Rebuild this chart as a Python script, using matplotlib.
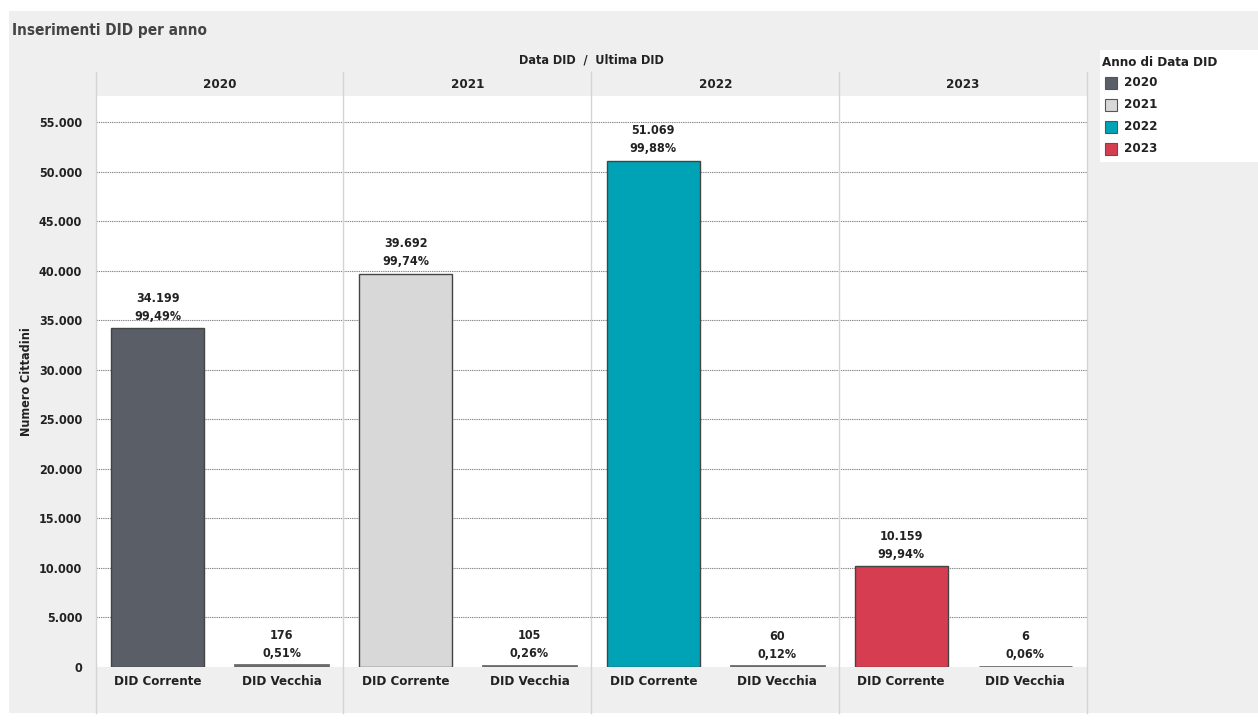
import matplotlib
matplotlib.use("Agg")
import matplotlib.pyplot as plt
from matplotlib import font_manager
from matplotlib.patches import Rectangle
from matplotlib.lines import Line2D

years = ["2020", "2021", "2022", "2023"]
categories = ["DID Corrente", "DID Vecchia"]
corrente = [34199, 39692, 51069, 10159]
vecchia = [176, 105, 60, 6]
pct_corrente = ["99,49%", "99,74%", "99,88%", "99,94%"]
pct_vecchia = ["0,51%", "0,26%", "0,12%", "0,06%"]
yticks = list(range(0, 55001, 5000))
colors = ["#5a5e67", "#d8d8d8", "#00a3b5", "#d63d51"]

names = {f.name for f in font_manager.fontManager.ttflist}
if "Liberation Sans Narrow" in names:
    FONT = "Liberation Sans Narrow"
    STRETCH = "normal"
else:
    FONT = "DejaVu Sans"
    STRETCH = "condensed"
plt.rcParams["font.family"] = [FONT, "DejaVu Sans"]
plt.rcParams["font.weight"] = "bold"

W, H = 1258, 727
fig = plt.figure(figsize=(W / 100, H / 100), dpi=100)
fig.patch.set_facecolor("white")

def fx(px):
    return px / W

def fy(py):
    return 1 - py / H

# gray background
fig.add_artist(Rectangle((fx(9), fy(713)), fx(1258) - fx(9), fy(11) - fy(713),
                         transform=fig.transFigure, facecolor="#efefef", edgecolor="none", zorder=0))
# legend box
fig.add_artist(Rectangle((fx(1100), fy(162)), fx(1258) - fx(1100), fy(50) - fy(162),
                         transform=fig.transFigure, facecolor="white", edgecolor="none", zorder=1))

L, R, T, B = 96, 1087, 96, 667
ax = fig.add_axes([fx(L), fy(B), fx(R) - fx(L), fy(T) - fy(B)])
ax.set_facecolor("white")
for s in ax.spines.values():
    s.set_visible(False)

ymax = (B - T) / ((667 - 122) / 55000)
ax.set_xlim(0, 4)
ax.set_ylim(0, ymax)

ax.set_yticks(yticks)
ax.set_yticklabels([f"{v:,}".replace(",", ".") for v in yticks], fontsize=9, color="#222",
                   fontstretch=STRETCH, fontweight="bold")
ax.tick_params(axis="y", length=0, pad=10)
for v in yticks[1:]:
    ax.axhline(v, color="#888", lw=0.8, ls=(0, (1.2, 0.8)), zorder=1)

xt, xl = [], []
bw = 0.375
for i, y in enumerate(years):
    for j, (val, pct) in enumerate([(corrente[i], pct_corrente[i]), (vecchia[i], pct_vecchia[i])]):
        x = i + 0.25 + 0.5 * j
        ax.bar(x, val, width=bw, color=colors[i], edgecolor="#444" if j == 0 else "#6a6a6a",
               linewidth=1.0 if j == 0 else 2.0, zorder=3)
        ax.annotate(f"{val:,}".replace(",", ".") + "\n" + pct, (x, val), xytext=(0, 4),
                    textcoords="offset points", ha="center", va="bottom", fontsize=9,
                    color="#222", linespacing=1.5, fontstretch=STRETCH, fontweight="bold",
                    zorder=4)
        xt.append(x)
        xl.append(categories[j])
ax.set_xticks(xt)
ax.set_xticklabels(xl, fontsize=9.5, color="#222", fontstretch=STRETCH, fontweight="bold")
ax.tick_params(axis="x", length=0, pad=6)

ax.set_ylabel("Numero Cittadini", fontsize=9, color="#222", labelpad=4, fontstretch=STRETCH,
              fontweight="bold")

# vertical separators across header & footer
for xp in [96, 343, 591, 839, 1087]:
    fig.add_artist(Line2D([fx(xp), fx(xp)], [fy(713), fy(72)], transform=fig.transFigure,
                          color="#d4d4d4", lw=1, zorder=5))

# header labels
for i, y in enumerate(years):
    ax.text(i + 0.5, 1.0 + 12 / (B - T), y, transform=ax.get_xaxis_transform(), ha="center",
            va="center", fontsize=9.5, color="#222", fontstretch=STRETCH, fontweight="bold")
fig.text(fx(591), fy(60), "Data DID  /  Ultima DID", ha="center", va="center", fontsize=9,
         color="#222", fontstretch=STRETCH, fontweight="bold")
fig.text(fx(12), fy(30), "Inserimenti DID per anno", ha="left", va="center", fontsize=11,
         color="#444", fontstretch=STRETCH, fontweight="bold")

# legend
fig.text(fx(1102), fy(62), "Anno di Data DID", ha="left", va="center", fontsize=9.5,
         color="#222", fontstretch=STRETCH, fontweight="bold", zorder=6)
for k, y in enumerate(years):
    yc = 83 + k * 22
    fig.add_artist(Rectangle((fx(1105), fy(yc + 6)), fx(12), 12 / H, transform=fig.transFigure,
                             facecolor=colors[k], edgecolor="#555", lw=0.8, zorder=6))
    fig.text(fx(1124), fy(yc), y, ha="left", va="center", fontsize=9.5, color="#222",
             fontstretch=STRETCH, fontweight="bold", zorder=6)

fig.savefig("out.png", dpi=100)
